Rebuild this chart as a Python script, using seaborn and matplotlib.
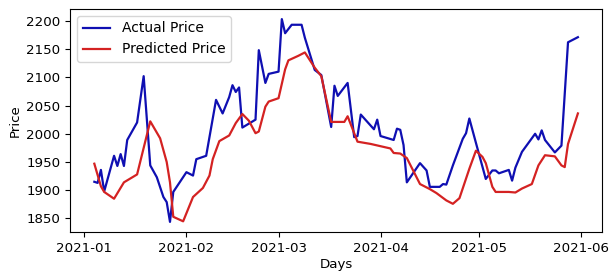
import matplotlib
matplotlib.use('Agg')
import matplotlib.pyplot as plt
import seaborn as sns
import pandas as pd

# Gia thuc te (doc tu bieu do)
actual_dates = ['2021-01-04', '2021-01-05', '2021-01-06', '2021-01-07', '2021-01-10', '2021-01-11',
                '2021-01-12', '2021-01-13', '2021-01-14', '2021-01-17', '2021-01-19', '2021-01-21',
                '2021-01-23', '2021-01-25', '2021-01-26', '2021-01-27', '2021-01-28', '2021-02-01',
                '2021-02-03', '2021-02-04', '2021-02-06', '2021-02-07', '2021-02-10', '2021-02-12',
                '2021-02-14', '2021-02-15', '2021-02-16', '2021-02-17', '2021-02-18', '2021-02-22',
                '2021-02-23', '2021-02-25', '2021-02-26', '2021-03-01', '2021-03-02', '2021-03-03',
                '2021-03-05', '2021-03-08', '2021-03-09', '2021-03-12', '2021-03-14', '2021-03-17',
                '2021-03-18', '2021-03-19', '2021-03-22', '2021-03-24', '2021-03-25', '2021-03-26',
                '2021-03-30', '2021-03-31', '2021-04-01', '2021-04-05', '2021-04-06', '2021-04-07',
                '2021-04-08', '2021-04-09', '2021-04-13', '2021-04-15', '2021-04-16', '2021-04-19',
                '2021-04-20', '2021-04-21', '2021-04-23', '2021-04-26', '2021-04-27', '2021-04-28',
                '2021-04-30', '2021-05-03', '2021-05-05', '2021-05-06', '2021-05-07', '2021-05-10',
                '2021-05-11', '2021-05-12', '2021-05-14', '2021-05-18', '2021-05-19', '2021-05-20',
                '2021-05-21', '2021-05-24', '2021-05-26', '2021-05-28', '2021-05-31']
actual_price = [1915, 1913, 1936, 1898, 1961, 1943,
                1964, 1943, 1989, 2020, 2102, 1944,
                1923, 1888, 1879, 1844, 1897, 1932,
                1926, 1955, 1959, 1961, 2060, 2036,
                2065, 2086, 2074, 2082, 2011, 2025,
                2148, 2090, 2106, 2110, 2203, 2178,
                2193, 2193, 2170, 2113, 2104, 2012,
                2085, 2067, 2090, 1994, 1996, 2034,
                2008, 2025, 1996, 1989, 2009, 2007,
                1980, 1914, 1948, 1935, 1906, 1906,
                1911, 1910, 1944, 1991, 2001, 2027,
                1984, 1920, 1935, 1935, 1930, 1936,
                1917, 1940, 1968, 2000, 1990, 2006,
                1989, 1967, 1979, 2162, 2171]

# Gia du doan
pred_dates = ['2021-01-04', '2021-01-06', '2021-01-07', '2021-01-10', '2021-01-13', '2021-01-17',
              '2021-01-21', '2021-01-24', '2021-01-26', '2021-01-27', '2021-01-28', '2021-01-31',
              '2021-02-03', '2021-02-06', '2021-02-08', '2021-02-09', '2021-02-11', '2021-02-14',
              '2021-02-16', '2021-02-18', '2021-02-20', '2021-02-22', '2021-02-23', '2021-02-25',
              '2021-02-26', '2021-03-01', '2021-03-03', '2021-03-04', '2021-03-07', '2021-03-09',
              '2021-03-12', '2021-03-14', '2021-03-17', '2021-03-21', '2021-03-22', '2021-03-25',
              '2021-03-29', '2021-04-01', '2021-04-04', '2021-04-05', '2021-04-07', '2021-04-09',
              '2021-04-13', '2021-04-16', '2021-04-18', '2021-04-21', '2021-04-23', '2021-04-25',
              '2021-04-28', '2021-04-30', '2021-05-02', '2021-05-03', '2021-05-05', '2021-05-06',
              '2021-05-10', '2021-05-12', '2021-05-14', '2021-05-17', '2021-05-19', '2021-05-21',
              '2021-05-24', '2021-05-26', '2021-05-27', '2021-05-28', '2021-05-31']
pred_price = [1947, 1907, 1897, 1885, 1914, 1928,
              2022, 1992, 1950, 1914, 1853, 1845,
              1888, 1904, 1926, 1955, 1987, 1997,
              2019, 2035, 2023, 2001, 2004, 2048,
              2057, 2063, 2114, 2130, 2138, 2144,
              2117, 2102, 2021, 2021, 2031, 1986,
              1982, 1978, 1974, 1966, 1965, 1957,
              1911, 1902, 1895, 1882, 1876, 1886,
              1938, 1970, 1959, 1948, 1906, 1897,
              1897, 1896, 1903, 1911, 1944, 1962,
              1960, 1944, 1941, 1982, 2036]

df_actual = pd.DataFrame({'Days': pd.to_datetime(actual_dates), 'Price': actual_price})
df_pred = pd.DataFrame({'Days': pd.to_datetime(pred_dates), 'Price': pred_price})

plt.rcParams['font.size'] = 9.6

fig = plt.figure(figsize=(6.1, 2.72), dpi=100)
ax = fig.add_axes([0.115, 0.147, 0.872, 0.82])
sns.lineplot(data=df_actual, x='Days', y='Price', color='#0f0fb2', lw=1.6, label='Actual Price', ax=ax)
sns.lineplot(data=df_pred, x='Days', y='Price', color='#d42222', lw=1.6, label='Predicted Price', ax=ax)
ax.set_xlabel('Days', labelpad=2)
ax.set_ylabel('Price', labelpad=3)
ax.legend(loc='upper left', fontsize=10)
plt.savefig('out.png', dpi=100)
